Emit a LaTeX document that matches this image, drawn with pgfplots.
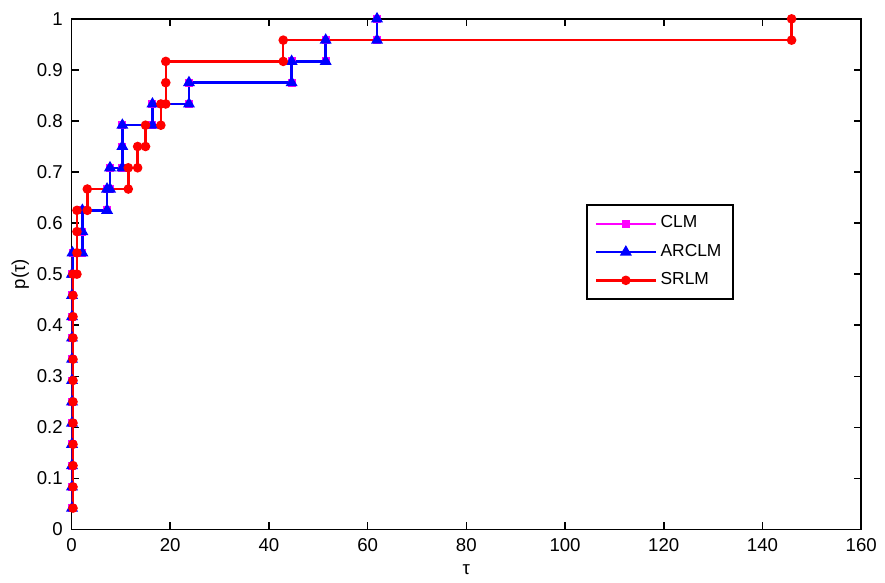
\documentclass[border=0pt]{standalone}
\usepackage{fontspec}
\setmainfont{Liberation Sans}
\usepackage{pgfplots}
\pgfplotsset{compat=1.18}
\definecolor{clm}{RGB}{255,0,255}
\definecolor{arc}{RGB}{0,0,255}
\definecolor{srl}{RGB}{255,0,0}
\begin{document}
\begin{tikzpicture}
\begin{axis}[
  width=318pt, height=205.6pt, scale only axis,
  xmin=0, xmax=160, ymin=0, ymax=1,
  xtick={0,20,40,60,80,100,120,140,160},
  ytick={0,0.1,0.2,0.3,0.4,0.5,0.6,0.7,0.8,0.9,1},
  yticklabels={0,0.1,0.2,0.3,0.4,0.5,0.6,0.7,0.8,0.9,1},
  tick align=inside, major tick length=3pt,
  axis line style={line width=0.6pt},
  tick style={black, line width=0.6pt},
  /pgf/number format/assume math mode=true,
  tick label style={font=\fontsize{7.5}{9}\selectfont},
  xlabel={τ}, ylabel={p(τ)},
  label style={font=\fontsize{7.5}{9}\selectfont},
  xlabel style={at={(axis description cs:0.5,-0.078)}, anchor=center},
  ylabel style={at={(axis description cs:-0.065,0.5)}, anchor=center, rotate=0},
  legend cell align=left,
  legend style={at={(rel axis cs:0.652,0.638)}, anchor=north west,
    draw=black, line width=0.8pt, font=\fontsize{7}{8}\selectfont,
    row sep=2pt, inner sep=3pt,
    nodes={inner sep=1.5pt}},
  legend image code/.code={\draw[mark repeat=2,mark phase=2,#1]
    plot coordinates {(0pt,0pt)(12pt,0pt)(24pt,0pt)};},
]
\coordinate (bl) at (rel axis cs:0,0);
\coordinate (tr) at (rel axis cs:1,1);
% CLM (mostly hidden below ARCLM)
\addplot[clm, line width=1pt, mark=square*, mark size=1.1pt] coordinates {
  (0.1,0.0417)(0.1,0.0833)(0.1,0.125)(0.1,0.1667)(0.1,0.2083)(0.1,0.25)
  (0.1,0.2917)(0.1,0.3333)(0.1,0.375)(0.1,0.4167)(0.1,0.4583)(0.1,0.5)
  (0.2,0.5)(0.2,0.5417)
  (2.2,0.5417)(2.2,0.5833)(2.2,0.625)
  (7.2,0.625)(7.2,0.6667)
  (7.8,0.6667)(7.8,0.7083)
  (10.3,0.7083)(10.3,0.75)(10.3,0.7917)
  (16.4,0.7917)(16.4,0.8333)
  (23.8,0.8333)(23.8,0.875)
  (44.6,0.875)(44.6,0.9167)
  (51.5,0.9167)(51.5,0.9583)
  (61.9,0.9583)(61.9,1)
};
% ARCLM
\addplot[arc, line width=1pt, mark=triangle*, mark size=1.8pt] coordinates {
  (0.1,0.0417)(0.1,0.0833)(0.1,0.125)(0.1,0.1667)(0.1,0.2083)(0.1,0.25)
  (0.1,0.2917)(0.1,0.3333)(0.1,0.375)(0.1,0.4167)(0.1,0.4583)(0.1,0.5)
  (0.2,0.5)(0.2,0.5417)
  (2.2,0.5417)(2.2,0.5833)(2.2,0.625)
  (7.2,0.625)(7.2,0.6667)
  (7.8,0.6667)(7.8,0.7083)
  (10.3,0.7083)(10.3,0.75)(10.3,0.7917)
  (16.4,0.7917)(16.4,0.8333)
  (23.8,0.8333)(23.8,0.875)
  (44.6,0.875)(44.6,0.9167)
  (51.5,0.9167)(51.5,0.9583)
  (61.9,0.9583)(61.9,1)
};
% SRLM
\addplot[srl, line width=1pt, mark=*, mark size=1.4pt] coordinates {
  (0.3,0.0417)(0.3,0.0833)(0.3,0.125)(0.3,0.1667)(0.3,0.2083)(0.3,0.25)
  (0.3,0.2917)(0.3,0.3333)(0.3,0.375)(0.3,0.4167)(0.3,0.4583)(0.3,0.5)
  (1.1,0.5)(1.1,0.5417)(1.1,0.5833)(1.1,0.625)
  (3.2,0.625)(3.2,0.6667)
  (11.5,0.6667)(11.5,0.7083)
  (13.4,0.7083)(13.4,0.75)
  (15.0,0.75)(15.0,0.7917)
  (18.1,0.7917)(18.1,0.8333)
  (19.1,0.8333)(19.1,0.875)(19.1,0.9167)
  (42.9,0.9167)(42.9,0.9583)
  (145.9,0.9583)(145.9,1)
};
\legend{CLM, ARCLM, SRLM}
\end{axis}
\path[use as bounding box] ([xshift=-28.8pt,yshift=-20pt]bl) rectangle ([xshift=7.2pt,yshift=7.6pt]tr);
\end{tikzpicture}
\end{document}
